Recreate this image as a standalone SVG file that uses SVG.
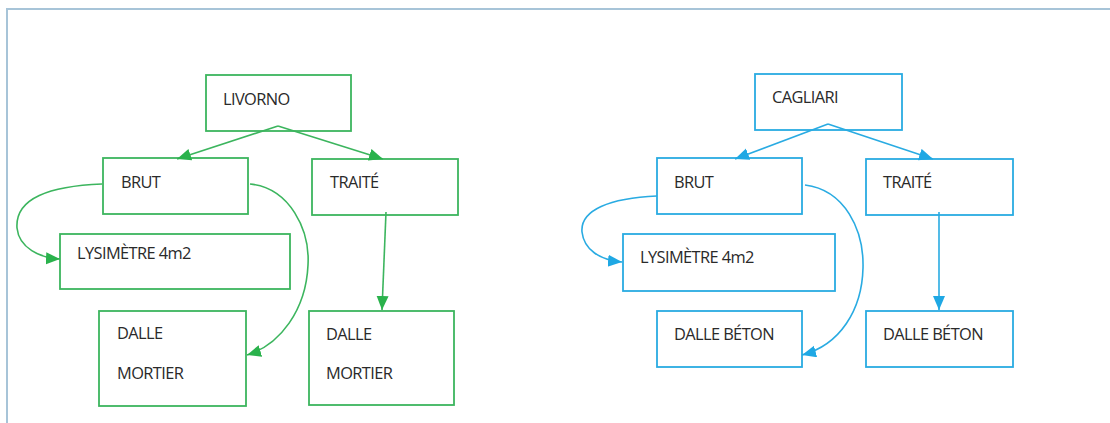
<svg xmlns="http://www.w3.org/2000/svg" width="1110" height="423" viewBox="0 0 1110 423">
  <style>
    .g rect { fill: #fff; stroke: #3cb55e; stroke-width: 1.8; }
    .b rect { fill: #fff; stroke: #29abe2; stroke-width: 1.8; }
    text { font-family: "Open Sans", "Noto Sans", sans-serif; font-size: 16.4px; fill: #2a2a2a; letter-spacing: -0.6px; }
    .cg path { fill: none; stroke: #3cb55e; stroke-width: 1.6; marker-end: url(#ag); }
    .cb path { fill: none; stroke: #29abe2; stroke-width: 1.6; marker-end: url(#ab); }
  </style>
  <defs>
    <marker id="ag" markerUnits="userSpaceOnUse" markerWidth="15" markerHeight="13" refX="14" refY="6" orient="auto">
      <path d="M0,0 L14,6 L0,12 z" fill="#2ab24c"/>
    </marker>
    <marker id="ab" markerUnits="userSpaceOnUse" markerWidth="15" markerHeight="13" refX="14" refY="6" orient="auto">
      <path d="M0,0 L14,6 L0,12 z" fill="#1fa8e4"/>
    </marker>
  </defs>

  <rect width="1110" height="423" fill="#fff"/>
  <!-- outer frame -->
  <path d="M7,423 V9 H1110" fill="none" stroke="#a7c4d8" stroke-width="2"/>

  <!-- Livorno tree -->
  <g id="livorno" class="g"><rect x="206" y="75" width="145" height="56"/><text x="223" y="105">LIVORNO</text></g>
  <g id="l-brut" class="g"><rect x="103" y="158" width="145" height="56"/><text x="121" y="188">BRUT</text></g>
  <g id="l-traite" class="g"><rect x="312" y="159" width="146" height="56"/><text x="330" y="188">TRAITÉ</text></g>
  <g id="l-lysimetre" class="g"><rect x="60" y="234" width="230" height="55"/><text x="77" y="259">LYSIMÈTRE 4m2</text></g>
  <g id="l-dalle-brut" class="g"><rect x="99" y="311" width="147" height="95"/><text x="117" y="339">DALLE</text><text x="117" y="379">MORTIER</text></g>
  <g id="l-dalle-traite" class="g"><rect x="309" y="311" width="145" height="94"/><text x="326" y="340">DALLE</text><text x="326" y="379">MORTIER</text></g>

  <!-- Cagliari tree -->
  <g id="cagliari" class="b"><rect x="755" y="74" width="147" height="56"/><text x="772" y="103">CAGLIARI</text></g>
  <g id="c-brut" class="b"><rect x="657" y="158" width="145" height="56"/><text x="674" y="188">BRUT</text></g>
  <g id="c-traite" class="b"><rect x="866" y="159" width="147" height="56"/><text x="883" y="188">TRAITÉ</text></g>
  <g id="c-lysimetre" class="b"><rect x="623" y="234" width="212" height="57"/><text x="640" y="263">LYSIMÈTRE 4m2</text></g>
  <g id="c-dalle-brut" class="b"><rect x="657" y="311" width="145" height="56"/><text x="674" y="340">DALLE BÉTON</text></g>
  <g id="c-dalle-traite" class="b"><rect x="866" y="311" width="147" height="56"/><text x="883" y="340">DALLE BÉTON</text></g>

  <!-- connectors -->
  <g id="connectors">
    <g class="cg">
      <path d="M278,126 L177,159"/>
      <path d="M278,126 L383,159"/>
      <path d="M102,184 C50,186 15,198 17,228 C19,248 40,258 60,259"/>
      <path d="M250,184 C290,188 310,230 308,265 C306,310 280,345 247,355"/>
      <path d="M386,212 L382,310"/>
    </g>
    <g class="cb">
      <path d="M828,124 L735,159"/>
      <path d="M828,124 L933,159"/>
      <path d="M657,196 C610,198 580,210 582,232 C584,250 600,260 622,262"/>
      <path d="M805,185 C845,190 864,230 863,268 C862,310 840,345 802,355"/>
      <path d="M939,212 L939,310"/>
    </g>
  </g>
</svg>
